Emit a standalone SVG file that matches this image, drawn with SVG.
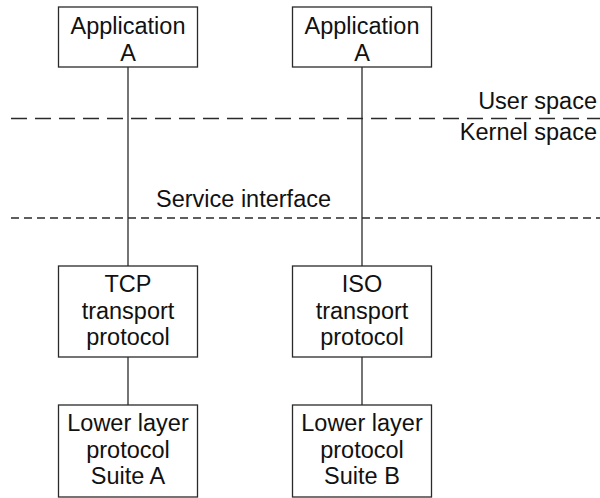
<svg xmlns="http://www.w3.org/2000/svg" width="600" height="498" viewBox="0 0 600 498">
<style>
  .box { fill: #ffffff; stroke: #2a2a2a; stroke-width: 1.3; }
  .conn { stroke: #2a2a2a; stroke-width: 1.3; fill: none; }
  .t { font-family: "Liberation Sans", Arial, sans-serif; font-size: 23.5px; fill: #111111; }
  .c { text-anchor: middle; }
  .r { text-anchor: end; }
  .dl { stroke: #2a2a2a; stroke-width: 1.3; stroke-dasharray: 16 8; }
  .ds { stroke: #2a2a2a; stroke-width: 1.3; stroke-dasharray: 8 5; }
</style>
<rect width="600" height="498" fill="#ffffff"/>
<g id="boundaries">
  <line class="dl" x1="11" y1="118.5" x2="600" y2="118.5"/>
  <line class="ds" x1="11" y1="218" x2="600" y2="218"/>
  <text class="t r" x="597" y="109">User space</text>
  <text class="t r" x="597" y="140">Kernel space</text>
  <text class="t" x="156" y="207">Service interface</text>
</g>
<g id="connectors">
  <line class="conn" x1="128" y1="67" x2="128" y2="266"/>
  <line class="conn" x1="128" y1="357" x2="128" y2="405"/>
  <line class="conn" x1="362" y1="67" x2="362" y2="266"/>
  <line class="conn" x1="362" y1="357" x2="362" y2="405"/>
</g>
<g id="appA1">
  <rect class="box" x="58.5" y="7" width="139" height="60"/>
  <text class="t c" x="128" y="34">Application</text>
  <text class="t c" x="128" y="60.5">A</text>
</g>
<g id="appA2">
  <rect class="box" x="292.5" y="7" width="139" height="60"/>
  <text class="t c" x="362" y="34">Application</text>
  <text class="t c" x="362" y="60.5">A</text>
</g>
<g id="tcp">
  <rect class="box" x="58.5" y="266" width="139" height="91"/>
  <text class="t c" x="128" y="292">TCP</text>
  <text class="t c" x="128" y="318.5">transport</text>
  <text class="t c" x="128" y="345">protocol</text>
</g>
<g id="iso">
  <rect class="box" x="292.5" y="266" width="139" height="91"/>
  <text class="t c" x="362" y="292">ISO</text>
  <text class="t c" x="362" y="318.5">transport</text>
  <text class="t c" x="362" y="345">protocol</text>
</g>
<g id="lowerA">
  <rect class="box" x="58.5" y="405" width="139" height="92"/>
  <text class="t c" x="128" y="431">Lower layer</text>
  <text class="t c" x="128" y="457.5">protocol</text>
  <text class="t c" x="128" y="484">Suite A</text>
</g>
<g id="lowerB">
  <rect class="box" x="292.5" y="405" width="139" height="92"/>
  <text class="t c" x="362" y="431">Lower layer</text>
  <text class="t c" x="362" y="457.5">protocol</text>
  <text class="t c" x="362" y="484">Suite B</text>
</g>
</svg>
